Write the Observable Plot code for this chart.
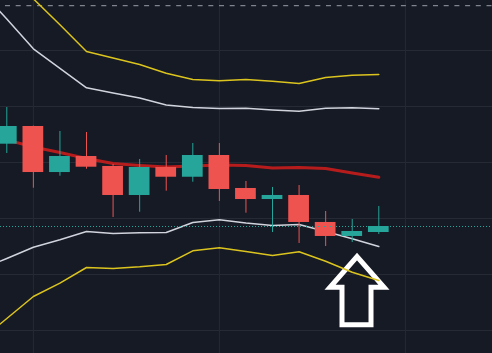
<!DOCTYPE html>
<html>
<head>
<meta charset="utf-8">
<script src="https://cdn.jsdelivr.net/npm/d3@7"></script>
<script src="https://cdn.jsdelivr.net/npm/@observablehq/plot@0.6"></script>
<style>
  html, body { margin: 0; padding: 0; background: #161a25; }
  #chart svg { display: block; }
</style>
</head>
<body>
<div id="chart"></div>
<script>
// Candles (index 0..14)
const openP  = [143.27, 146.43, 138.21, 141.07, 139.29, 134.11, 139.11, 137.37, 141.25, 135.36, 133.39, 134.11, 129.29, 126.79, 127.50];
const closeP = [146.43, 138.21, 141.07, 139.16, 134.11, 139.11, 137.37, 141.25, 135.18, 133.39, 134.11, 129.29, 126.79, 127.68, 128.57];
const highP  = [149.82, 146.50, 145.54, 145.36, 139.64, 140.54, 141.25, 143.39, 143.39, 136.61, 135.54, 135.89, 131.25, 129.82, 132.14];
const lowP   = [141.61, 135.41, 137.55, 138.80, 130.18, 131.12, 134.88, 136.48, 133.04, 130.95, 127.50, 125.54, 125.00, 125.71, 127.14];

// Middle band (moving average), index 0..14
const smaP = [144.04, 142.77, 141.79, 140.71, 139.82, 139.46, 139.20, 139.38, 139.55, 139.46, 139.02, 139.11, 138.93, 138.12, 137.37];

// Bands, index -1..14
const bandIdx    = [-1, 0, 1, 2, 3, 4, 5, 6, 7, 8, 9, 10, 11, 12, 13, 14];
const upperInner = [170.82, 165.61, 160.30, 156.82, 153.34, 152.41, 151.52, 150.27, 149.82, 149.64, 149.70, 149.37, 149.14, 149.70, 149.77, 149.59];
const upperOuter = [179.64, 174.29, 169.23, 164.61, 159.82, 158.66, 157.50, 155.95, 154.82, 154.59, 154.82, 154.52, 154.11, 155.18, 155.59, 155.71];
const lowerInner = [120.89, 122.86, 124.87, 126.20, 127.68, 127.32, 127.45, 127.50, 129.29, 129.77, 129.20, 128.75, 128.93, 127.68, 126.37, 125.00];
const lowerOuter = [108.21, 112.14, 116.07, 118.45, 121.25, 121.07, 121.37, 121.79, 124.23, 124.77, 124.11, 123.39, 124.05, 122.37, 120.41, 118.93];

// Reference levels and grid
const highLevel = 168;
const gridPrices = [110, 120, 130, 140, 150, 160];
const gridIdx = [1, 8, 15];

// Up-arrow annotation outline (index, price), closed, starting mid-bottom
const arrowIdx   = [13.16, 13.707, 13.707, 14.196, 13.18, 12.164, 12.615, 12.615, 13.16];
const arrowPrice = [111.04, 111.04, 117.71, 117.71, 123.20, 117.71, 117.71, 111.04, 111.04];

const candles = openP.map((o, k) => ({i: k, open: o, close: closeP[k], high: highP[k], low: lowP[k]}));
const sma = smaP.map((v, k) => ({i: k, v}));
const bands = bandIdx.map((i, k) => ({i, ui: upperInner[k], uo: upperOuter[k], li: lowerInner[k], lo: lowerOuter[k]}));
const arrow = arrowIdx.map((i, k) => ({i, p: arrowPrice[k]}));

const UP = "#26a69a", DOWN = "#ef5350";
const col = d => d.close >= d.open ? UP : DOWN;

const chart = Plot.plot({
  width: 492,
  height: 353,
  margin: 0,
  style: {background: "#161a25"},
  x: {domain: [-0.2371, 18.279], axis: null},
  y: {domain: [105.893, 168.929], axis: null},
  marks: [
    Plot.ruleY(gridPrices, {stroke: "#262a35", strokeWidth: 1}),
    Plot.ruleX(gridIdx, {stroke: "#262a35", strokeWidth: 1}),
    Plot.ruleY([highLevel], {stroke: "#9a9da5", strokeWidth: 1, strokeDasharray: "5,5.7", strokeDashoffset: 5.7}),
    Plot.line(arrow, {x: "i", y: "p", stroke: "#ffffff", strokeWidth: 5, strokeLinejoin: "miter", strokeMiterlimit: 10, strokeLinecap: "butt", curve: "linear"}),
    Plot.line(bands, {x: "i", y: "uo", stroke: "#dcc41f", strokeWidth: 1.5, clip: true}),
    Plot.line(bands, {x: "i", y: "lo", stroke: "#dcc41f", strokeWidth: 1.5, clip: true}),
    Plot.line(bands, {x: "i", y: "ui", stroke: "#d1d4dc", strokeWidth: 1.5, clip: true}),
    Plot.line(bands, {x: "i", y: "li", stroke: "#d1d4dc", strokeWidth: 1.5, clip: true}),
    Plot.line(sma, {x: "i", y: "v", stroke: "#b71c1c", strokeWidth: 3, clip: true}),
    Plot.ruleX(candles, {x: "i", y1: "low", y2: "high", stroke: col, strokeWidth: 1}),
    Plot.rect(candles, {x1: d => d.i - 0.39, x2: d => d.i + 0.39, y1: "open", y2: "close", fill: col}),
    Plot.ruleY([closeP[closeP.length - 1]], {stroke: UP, strokeWidth: 1, strokeDasharray: "1,2"})
  ]
});
document.getElementById("chart").appendChild(chart);
</script>
</body>
</html>
